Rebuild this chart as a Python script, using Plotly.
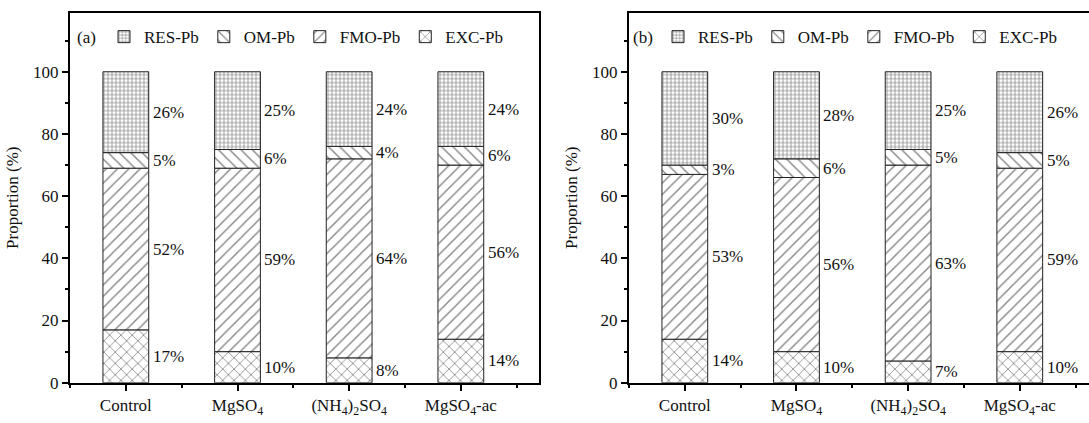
import plotly.graph_objects as go

categories = ["Control", "MgSO<sub>4</sub>", "(NH<sub>4</sub>)<sub>2</sub>SO<sub>4</sub>", "MgSO<sub>4</sub>-ac"]
fractions = ["EXC-Pb", "FMO-Pb", "OM-Pb", "RES-Pb"]

# panel (a)
a_exc = [17, 10, 8, 14]
a_fmo = [52, 59, 64, 56]
a_om = [5, 6, 4, 6]
a_res = [26, 25, 24, 24]

# panel (b)
b_exc = [14, 10, 7, 10]
b_fmo = [53, 56, 63, 59]
b_om = [3, 6, 5, 5]
b_res = [30, 28, 25, 26]

y_ticks = [0, 20, 40, 60, 80, 100]

FONT = "Liberation Serif"
patterns = {
    "EXC-Pb": dict(shape="x", size=8, solidity=0.2),
    "FMO-Pb": dict(shape="/", size=8, solidity=0.18),
    "OM-Pb": dict(shape="\\", size=8, solidity=0.18),
    "RES-Pb": dict(shape="+", size=4, solidity=0.35),
}
legend_order = {"RES-Pb": 1, "OM-Pb": 2, "FMO-Pb": 3, "EXC-Pb": 4}

fig = go.Figure()
BAR_W = 0.41
xpos = list(range(len(categories)))

panels = [
    ("x", "y", "legend", [a_exc, a_fmo, a_om, a_res]),
    ("x2", "y2", "legend2", [b_exc, b_fmo, b_om, b_res]),
]
annotations = []
for xa, ya, lg, series in panels:
    cum = [0] * len(categories)
    for name, vals in zip(fractions, series):
        p = patterns[name]
        fig.add_trace(go.Bar(
            x=xpos, y=vals, base=cum[:], name=name, width=BAR_W,
            xaxis=xa, yaxis=ya, legend=lg, legendrank=legend_order[name],
            marker=dict(color="white", line=dict(color="#222222", width=1),
                        pattern=dict(shape=p["shape"], size=p["size"], solidity=p["solidity"],
                                     fgcolor="#111111", bgcolor="white", fillmode="overlay")),
        ))
        for i, v in enumerate(vals):
            annotations.append(dict(
                x=xpos[i] + BAR_W / 2, y=cum[i] + v / 2, xref=xa, yref=ya,
                text=f"{v}%", showarrow=False, xanchor="left", yanchor="middle", xshift=2,
                font=dict(family=FONT, size=17, color="#111111"),
            ))
            cum[i] += v

annotations.append(dict(x=75 / 1089, y=1 - 38 / 423, xref="paper", yref="paper", text="(a)",
                        showarrow=False, xanchor="left", yanchor="middle",
                        font=dict(family=FONT, size=17, color="#111111")))
annotations.append(dict(x=631 / 1089, y=1 - 38 / 423, xref="paper", yref="paper", text="(b)",
                        showarrow=False, xanchor="left", yanchor="middle",
                        font=dict(family=FONT, size=17, color="#111111")))

ydom = [1 - 392 / 423, 1 - 13 / 423]
common_x = dict(
    tickmode="array", tickvals=xpos, ticktext=categories,
    showline=True, linecolor="black", linewidth=2, ticks="outside", ticklen=6, tickwidth=2,
    tickcolor="black", showgrid=False, zeroline=False, tickfont=dict(family=FONT, size=17, color="#111111"),
    minor=dict(tick0=0.5, dtick=1, ticks="outside", ticklen=3, tickwidth=2, tickcolor="black", showgrid=False),
    fixedrange=True,
)
common_y = dict(
    range=[0, 119], tickvals=y_ticks, showline=True, linecolor="black", linewidth=2,
    ticks="outside", ticklen=6, tickwidth=2, tickcolor="black", showgrid=False, zeroline=False,
    tickfont=dict(family=FONT, size=17, color="#111111"),
    minor=dict(tick0=0, dtick=10, ticks="outside", ticklen=3, tickwidth=2, tickcolor="black", showgrid=False),
    title=dict(text="Proportion (%)", font=dict(family=FONT, size=17, color="#111111"), standoff=10),
)

legend_common = dict(
    orientation="h", yanchor="middle", xanchor="left", y=1 - 38 / 423,
    font=dict(family=FONT, size=17, color="#111111"), bgcolor="rgba(0,0,0,0)",
    traceorder="normal", itemclick=False, itemdoubleclick=False,
)

fig.update_layout(
    width=1089, height=423, margin=dict(l=0, r=0, t=0, b=0),
    paper_bgcolor="white", plot_bgcolor="white", barmode="overlay",
    font=dict(family=FONT, size=17, color="#111111"),
    xaxis=dict(domain=[70 / 1089, 539 / 1089], anchor="y", mirror=True, range=[-0.5, 3.7], **common_x),
    yaxis=dict(domain=ydom, anchor="x", mirror=True, **common_y),
    xaxis2=dict(domain=[629 / 1089, 1.0], anchor="y2", mirror=True, range=[-0.5, 3.62], **common_x),
    yaxis2=dict(domain=ydom, anchor="x2", mirror=False, **common_y),
    legend=dict(x=104 / 1089, **legend_common),
    legend2=dict(x=658 / 1089, **legend_common),
    annotations=annotations,
    showlegend=True,
)

fig.write_html("out.html")
